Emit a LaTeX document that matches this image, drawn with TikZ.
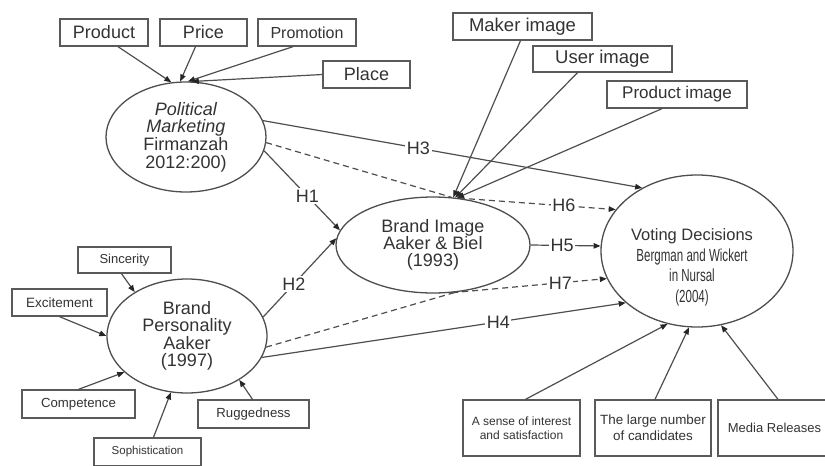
\documentclass[tikz,border=0pt]{standalone}
\usepackage{fontspec}
\setmainfont{Liberation Sans}
\newfontfamily\narrowfont[FakeStretch=0.66]{Liberation Sans}
\usetikzlibrary{shapes.geometric,arrows.meta}
\newcommand\myfs[2]{\fontsize{#1}{#2}\selectfont}
\definecolor{txt}{HTML}{333333}
\definecolor{linec}{HTML}{4E4E4E}
\definecolor{boxc}{HTML}{5A5A5A}
\tikzset{
  box/.style={draw=boxc, line width=1.3pt, fill=white, inner sep=0pt, text=txt, align=center},
  ell/.style={ellipse, draw=linec, line width=1.3pt, fill=white, inner sep=0pt, text=txt, align=center},
  con/.style={draw=linec, line width=1.2pt, -{Triangle[length=7pt,width=5.5pt,color=black!85]}},
  dsh/.style={con, dash pattern=on 6pt off 4pt},
  hl/.style={fill=white, inner sep=1.5pt, text=txt, font=\myfs{18}{18}}
}
\begin{document}
\begin{tikzpicture}[x=1pt,y=-1pt]
\useasboundingbox (0,0) rectangle (825,466);
\clip (0,0) rectangle (825,466);

% marketing mix boxes
\node[box, minimum width=88pt, minimum height=27pt, font=\myfs{18}{18}] (product) at (104,32.5) {Product};
\node[box, minimum width=87pt, minimum height=27pt, font=\myfs{18}{18}] (price) at (203.5,32.5) {Price};
\node[box, minimum width=98pt, minimum height=27pt, font=\myfs{16}{16}] (promotion) at (307,32.5) {Promotion};
\node[box, minimum width=87pt, minimum height=27pt, font=\myfs{18}{18}] (place) at (366.5,74.5) {Place};

% image boxes
\node[box, minimum width=139pt, minimum height=27pt, font=\myfs{18.5}{18}] (maker) at (522.5,26.5) {Maker image};
\node[box, minimum width=139pt, minimum height=26pt, font=\myfs{18.5}{18}] (user) at (602.5,59) {User image};
\node[box, minimum width=140pt, minimum height=27pt, font=\myfs{17}{17}] (prodimg) at (677,94.5) {Product image};

% personality boxes
\node[box, minimum width=93pt, minimum height=26pt, font=\myfs{13}{13}] (sinc) at (124.5,260) {Sincerity};
\node[box, minimum width=95pt, minimum height=27pt, font=\myfs{13.5}{13.5}] (exc) at (59.5,302.5) {Excitement};
\node[box, minimum width=113pt, minimum height=28pt, font=\myfs{13.2}{13.2}] (comp) at (78.5,404) {Competence};
\node[box, minimum width=107pt, minimum height=28pt, font=\myfs{11.5}{11.5}] (soph) at (147.5,452) {Sophistication};
\node[box, minimum width=111pt, minimum height=28pt, font=\myfs{13.2}{13.2}] (rugg) at (253.5,414) {Ruggedness};

% voting boxes
\node[box, minimum width=117pt, minimum height=56pt, font=\myfs{12}{14}] (sense) at (521.5,428) {A sense of interest\\and satisfaction};
\node[box, minimum width=116pt, minimum height=56pt, font=\myfs{13.4}{16}] (large) at (653,428) {The large number\\of candidates};
\node[box, minimum width=128pt, minimum height=56pt, font=\myfs{13}{13}] (media) at (782,428) {\hspace*{-15pt}Media Releases};

% ellipses
\node[ell, minimum width=160pt, minimum height=110pt, font=\myfs{18}{17.6}] (pm) at (186,137) {\textit{Political}\\\textit{Marketing}\\Firmanzah\\2012:200)};
\node[ell, minimum width=194pt, minimum height=96pt, font=\myfs{18}{17}] (bi) at (433,245) {Brand Image\\Aaker \& Biel\\(1993)};
\node[ell, minimum width=160pt, minimum height=114pt, font=\myfs{18}{17.5}] (bp) at (187,336) {Brand\\Personality\\Aaker\\(1997)};
\node[ell, minimum width=192pt, minimum height=152pt] (vd) at (697,251) {};
\node[text=txt, align=center, inner sep=0pt, font=\myfs{16.5}{20.5}] (vdtext) at (692,267.5) {Voting Decisions\\{\narrowfont\fontsize{17.5}{20.5}\selectfont Bergman and Wickert}\\{\narrowfont\fontsize{17.5}{20.5}\selectfont in Nursal}\\{\narrowfont\fontsize{17.5}{20.5}\selectfont (2004)}};

% marketing mix -> political marketing
\draw[con] ([xshift=14pt]product.south) -- (pm.105);
\draw[con] ([xshift=-8pt]price.south) -- (pm.96);
\draw[con] ([xshift=-14pt]promotion.south) -- (pm.88);
\draw[con] (place.west) -- (pm.84);

% images -> brand image
\draw[con] ([xshift=-2pt]maker.south) -- (bi.67);
\draw[con] ([xshift=-25pt]user.south) -- (bi.65);
\draw[con] ([xshift=-15pt]prodimg.south) -- (bi.63);

% personality dimensions -> brand personality
\draw[con] ([xshift=-3pt]sinc.south) -- (bp.140);
\draw[con] (exc.south) -- (bp.180);
\draw[con] (comp.north) -- (bp.210);
\draw[con] ([xshift=6pt]soph.north) -- (bp.254);
\draw[con] ([xshift=-1pt]rugg.north) -- (bp.320);

% voting factors -> voting decisions
\draw[con] ([xshift=4pt]sense.north) -- (vd.248);
\draw[con] ([xshift=2pt]large.north) -- (vd.264);
\draw[con] ([xshift=-4pt]media.north) -- (vd.288);

% hypotheses
\draw[con] (pm.12) -- node[hl, pos=0.41] {H3} (vd.131);
\draw[dsh, -] (pm.356) -- (bi.69);
\draw[dsh] (bi.61) -- node[hl, pos=0.67] {H6} (vd.153);
\draw[con] (pm.350) -- node[hl, pos=0.57] {H1} (bi.171);
\draw[con] (bp.14) -- node[hl, pos=0.42] {H2} (bi.176);
\draw[con] (bi.east) -- node[hl, pos=0.45] {H5} (vd.177);
\draw[dsh, -] (bp.352) -- (bi.295);
\draw[dsh] (bi.292) -- node[hl, pos=0.7] {H7} (vd.197);
\draw[con] (bp.344) -- node[hl, pos=0.65] {H4} (vd.216);
\end{tikzpicture}
\end{document}
